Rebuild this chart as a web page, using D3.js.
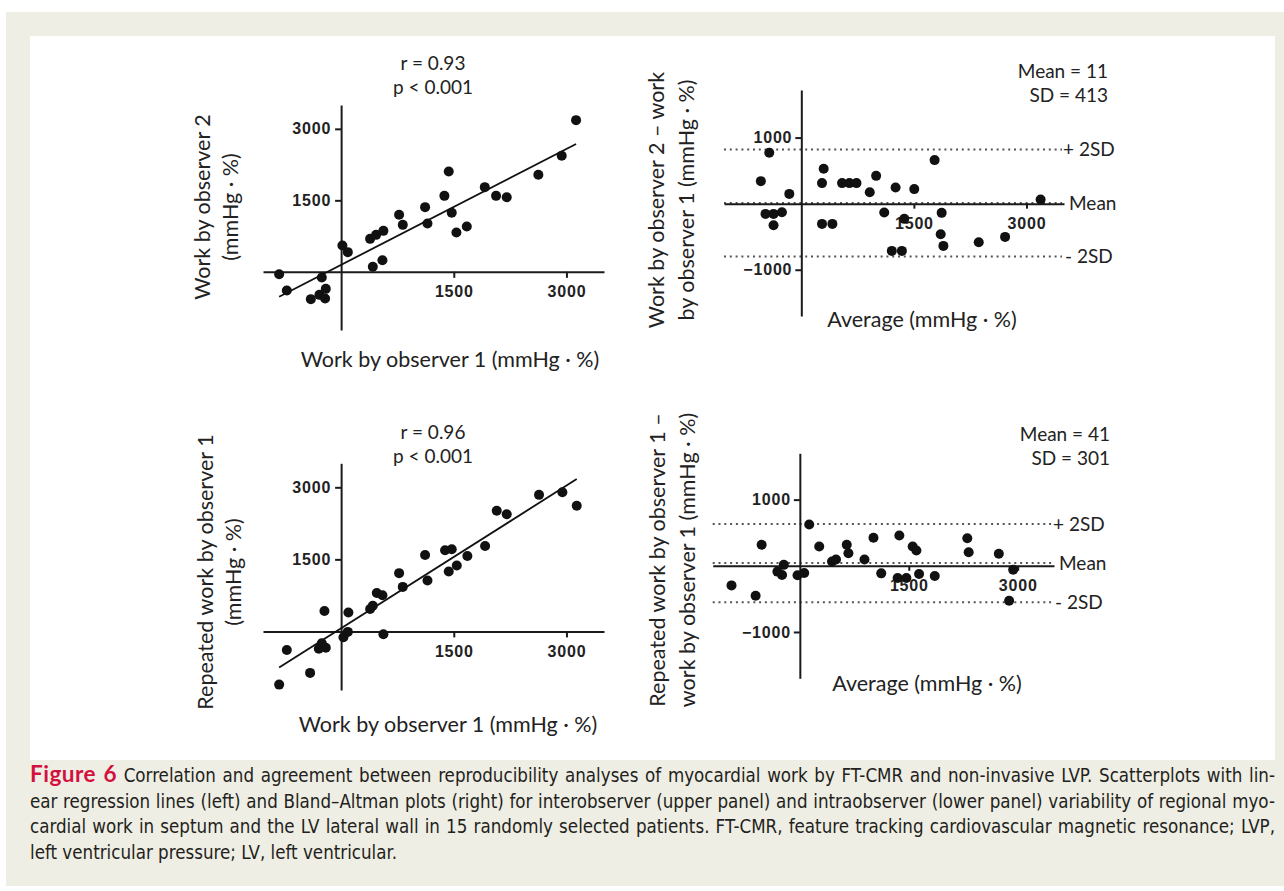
<!DOCTYPE html>
<html>
<head>
<meta charset="utf-8">
<script src="https://cdn.jsdelivr.net/npm/d3@7"></script>
<style>
  html, body { margin: 0; padding: 0; background: #ffffff; }
  svg { display: block; }
  .axis path, .axis line { stroke: #1a1a1a; stroke-width: 2; }
  .axis text { font-family: "Liberation Sans", Arial, sans-serif; font-weight: bold; font-size: 16px; fill: #222; letter-spacing: 0.8px; }
  .lbl { font-family: Lato, "Open Sans", sans-serif; fill: #222; }
</style>
</head>
<body>
<script>
// ---------------- DATA ----------------
// Interobserver scatter: work by observer 1 (x) vs observer 2 (y)
const interObs1 = [-825,-723,-403,-257,-289,-204,-213,17,89,386,466,563,422,550,772,821,1118,1150,1375,1433,1473,1535,1673,1913,2063,2205,2626,2937,3128];
const interObs2 = [-49,-392,-573,-119,-483,-357,-559,552,413,692,776,860,105,245,1196,986,1357,1013,1594,2104,1238,825,951,1777,1594,1566,2035,2434,3182];
const interSlope = 0.81, interIntercept = 147;
const interStats = ["r = 0.93", "p < 0.001"];

// Intraobserver scatter: work by observer 1 (x) vs repeated (y)
const intraObs1 = [-825,-723,-413,-297,-257,-204,-222,31,89,97,386,422,475,550,563,772,821,1118,1150,1384,1473,1433,1540,1681,1917,2072,2205,2635,2946,3137];
const intraRepeat = [-1108,-388,-864,-361,-248,-340,424,-122,-10,395,465,535,801,751,-59,1213,927,1590,1059,1689,1710,1248,1374,1569,1779,2513,2438,2843,2899,2618];
const intraSlope = 0.99, intraIntercept = 66;
const intraStats = ["r = 0.96", "p < 0.001"];

// Bland-Altman interobserver
const baInterAvg  = [-539,-427,-477,-370,-258,-370,-160,276,298,276,414,543,641,735,912,997,1105,1256,1372,1505,1206,1340,1776,1870,1857,1893,2364,2715,3188];
const baInterDiff = [341,770,-155,-155,-129,-326,148,311,527,-306,-306,311,311,311,174,421,-133,245,-230,220,-715,-715,659,-139,-462,-639,-583,-503,64];
const baInterLimits = {mean: 11, upper: 820, lower: -798};
const baInterStats = ["Mean = 11", "SD = 413"];

// Bland-Altman intraobserver
const baIntraAvg  = [-941,-609,-526,-309,-245,-221,-32,60,129,267,443,498,646,669,890,1014,1121,1347,1370,1467,1554,1605,1642,1858,2306,2325,2740,2882,2938];
const baIntraDiff = [-296,-452,317,-88,-138,14,-144,-108,625,291,64,94,317,190,94,423,-114,-184,458,-184,291,231,-123,-153,417,205,181,-528,-58];
const baIntraLimits = {mean: 41, upper: 631, lower: -549};
const baIntraStats = ["Mean = 41", "SD = 301"];

const scatterTicks = [1500, 3000];
const baXTicks = [1500, 3000];
const baYTicks = [-1000, 1000];

const captionLines = [
  "Correlation and agreement between reproducibility analyses of myocardial work by FT-CMR and non-invasive LVP. Scatterplots with lin-",
  "ear regression lines (left) and Bland–Altman plots (right) for interobserver (upper panel) and intraobserver (lower panel) variability of regional myo-",
  "cardial work in septum and the LV lateral wall in 15 randomly selected patients. FT-CMR, feature tracking cardiovascular magnetic resonance; LVP,",
  "left ventricular pressure; LV, left ventricular."
];
const captionLabel = "Figure 6";

// ---------------- LAYOUT ----------------
const W = 1284, H = 891;
const svg = d3.select("body").append("svg").attr("width", W).attr("height", H);

svg.append("rect").attr("x", 6).attr("y", 12).attr("width", W - 6).attr("height", 874).attr("fill", "#efeee4");
svg.append("rect").attr("x", 30).attr("y", 36).attr("width", 1245).attr("height", 724).attr("fill", "#ffffff");

const titleSize = 21.5, statSize = 19, limSize = 19;

function scatterPanel(cfg) {
  const x = d3.scaleLinear().domain([-1040, 3500]).range(cfg.xr);
  const y = d3.scaleLinear().domain([-1220, 3500]).range(cfg.yr);
  const g = svg.append("g");
  g.append("g").attr("class", "axis").attr("transform", `translate(0,${y(0)})`)
    .call(d3.axisBottom(x).tickValues(scatterTicks).tickSize(6).tickPadding(8).tickSizeOuter(0).tickFormat(d3.format("d")));
  g.append("g").attr("class", "axis").attr("transform", `translate(${x(0)},0)`)
    .call(d3.axisLeft(y).tickValues(scatterTicks).tickSize(6).tickPadding(4).tickSizeOuter(0).tickFormat(d3.format("d")));
  const x0 = d3.min(cfg.xs), x1 = d3.max(cfg.xs);
  g.append("line")
    .attr("x1", x(x0)).attr("y1", y(cfg.slope * x0 + cfg.intercept))
    .attr("x2", x(x1)).attr("y2", y(cfg.slope * x1 + cfg.intercept))
    .attr("stroke", "#111").attr("stroke-width", 1.8);
  g.selectAll("circle.pt").data(cfg.xs.map((v, i) => [v, cfg.ys[i]])).enter()
    .append("circle").attr("cx", d => x(d[0])).attr("cy", d => y(d[1])).attr("r", 5).attr("fill", "#111");
  g.selectAll("text.st").data(cfg.stats).enter().append("text").attr("class", "lbl")
    .attr("x", cfg.statX).attr("y", (d, i) => cfg.statY + i * 24).attr("text-anchor", "middle")
    .attr("font-size", statSize).text(d => d);
  const yt = g.append("text").attr("class", "lbl").attr("font-size", titleSize).attr("text-anchor", "middle")
    .attr("transform", `translate(${cfg.ytX},${cfg.ytY}) rotate(-90)`);
  cfg.ytitle.forEach((t, i) => yt.append("tspan").attr("x", 0).attr("y", i * 28).text(t));
  g.append("text").attr("class", "lbl").attr("font-size", titleSize).attr("text-anchor", "middle")
    .attr("x", cfg.xtX).attr("y", cfg.xtY).text(cfg.xtitle);
}

function baPanel(cfg) {
  const x = d3.scaleLinear().domain(cfg.xd).range(cfg.xr);
  const y = d3.scaleLinear().domain(cfg.yd).range(cfg.yr);
  const g = svg.append("g");
  const lim = cfg.limits;
  const xe = x.range()[1] - 2;
  [lim.upper, lim.mean, lim.lower].forEach(v => {
    g.append("line").attr("x1", x.range()[0]).attr("x2", xe).attr("y1", y(v)).attr("y2", y(v))
      .attr("stroke", "#555").attr("stroke-width", 2).attr("stroke-dasharray", "2,3.8");
  });
  g.append("g").attr("class", "axis").attr("transform", `translate(0,${y(0)})`)
    .call(d3.axisBottom(x).tickValues(baXTicks).tickSize(5).tickPadding(9).tickSizeOuter(0).tickFormat(d3.format("d")));
  g.append("g").attr("class", "axis").attr("transform", `translate(${x(0)},0)`)
    .call(d3.axisLeft(y).tickValues(baYTicks).tickSize(6).tickPadding(3).tickSizeOuter(0).tickFormat(d3.format("d")));
  g.selectAll("circle.pt").data(cfg.xs.map((v, i) => [v, cfg.ys[i]])).enter()
    .append("circle").attr("cx", d => x(d[0])).attr("cy", d => y(d[1])).attr("r", 5).attr("fill", "#111");
  const labs = [["+ 2SD", lim.upper, 0], ["Mean", lim.mean, 6], ["- 2SD", lim.lower, 2]];
  labs.forEach(l => {
    g.append("text").attr("class", "lbl").attr("font-size", limSize).attr("x", xe + 1 + l[2]).attr("y", y(l[1]))
      .attr("dy", "0.35em").text(l[0]);
  });
  g.selectAll("text.st").data(cfg.stats).enter().append("text").attr("class", "lbl")
    .attr("x", cfg.statX).attr("y", (d, i) => cfg.statY + i * 24).attr("text-anchor", "end")
    .attr("font-size", statSize).text(d => d);
  const yt = g.append("text").attr("class", "lbl").attr("font-size", titleSize).attr("text-anchor", "middle")
    .attr("transform", `translate(${cfg.ytX},${cfg.ytY}) rotate(-90)`);
  cfg.ytitle.forEach((t, i) => yt.append("tspan").attr("x", 0).attr("y", i * 30).text(t));
  g.append("text").attr("class", "lbl").attr("font-size", titleSize).attr("text-anchor", "middle")
    .attr("x", cfg.xtX).attr("y", cfg.xtY).text(cfg.xtitle);
}

scatterPanel({
  xr: [263, 604], yr: [330, 105], xs: interObs1, ys: interObs2, slope: interSlope, intercept: interIntercept,
  stats: interStats, statX: 433, statY: 70,
  ytitle: ["Work by observer 2", "(mmHg · %)"], ytX: 210, ytY: 207,
  xtitle: "Work by observer 1 (mmHg · %)", xtX: 450, xtY: 367
});
scatterPanel({
  xr: [263, 604], yr: [690, 463.3], xs: intraObs1, ys: intraRepeat, slope: intraSlope, intercept: intraIntercept,
  stats: intraStats, statX: 433, statY: 439,
  ytitle: ["Repeated work by observer 1", "(mmHg · %)"], ytX: 213, ytY: 572,
  xtitle: "Work by observer 1 (mmHg · %)", xtX: 448, xtY: 732
});
baPanel({
  xd: [-1030, 3500], xr: [724, 1064], yd: [-1700, 1720], yr: [316, 90],
  xs: baInterAvg, ys: baInterDiff, limits: baInterLimits,
  stats: baInterStats, statX: 1108, statY: 78,
  ytitle: ["Work by observer 2 – work", "by observer 1 (mmHg · %)"], ytX: 664, ytY: 200,
  xtitle: "Average (mmHg · %)", xtX: 922, xtY: 327
});
baPanel({
  xd: [-1200, 3500], xr: [712.7, 1054], yd: [-1700, 1700], yr: [678.3, 453.3],
  xs: baIntraAvg, ys: baIntraDiff, limits: baIntraLimits,
  stats: baIntraStats, statX: 1110, statY: 441,
  ytitle: ["Repeated work by observer 1 –", "work by observer 1 (mmHg · %)"], ytX: 665, ytY: 560,
  xtitle: "Average (mmHg · %)", xtX: 927, xtY: 691
});

// ---------------- CAPTION ----------------
const capFont = '"DejaVu Sans Condensed", "Liberation Sans Narrow", sans-serif';
const capX = 30, capW = 1245, capY0 = 782, capDY = 25.5;
captionLines.forEach((line, i) => {
  const t = svg.append("text").attr("x", capX).attr("y", capY0 + i * capDY)
    .attr("font-family", capFont).attr("font-size", 18.6).attr("fill", "#231f20");
  if (i === 0) {
    t.append("tspan").attr("font-weight", "bold").attr("fill", "#d3113e").attr("font-family", "Lato, sans-serif")
      .attr("font-size", 22.5).attr("letter-spacing", 0.5).text(captionLabel);
    t.append("tspan").text(" " + line);
  } else {
    t.append("tspan").text(line);
  }
  if (i < captionLines.length - 1) {
    const w = t.node().getComputedTextLength();
    if (w <= capW) {
      const full = (i === 0 ? captionLabel + " " : "") + line;
      const spaces = (full.match(/ /g) || []).length;
      t.attr("word-spacing", (capW - w) / spaces);
    } else {
      t.attr("textLength", capW).attr("lengthAdjust", "spacing");
    }
  }
});
</script>
</body>
</html>
